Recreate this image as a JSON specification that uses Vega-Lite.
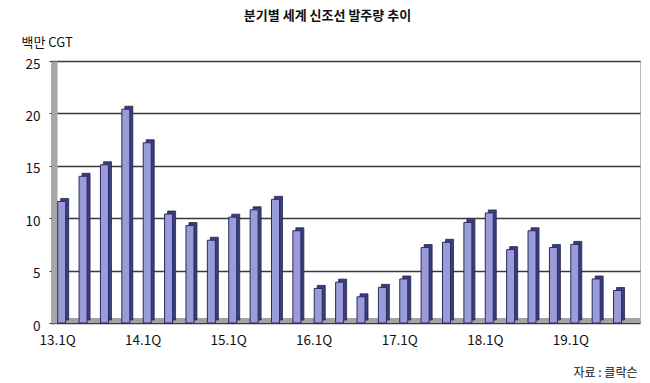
{
  "$schema": "https://vega.github.io/schema/vega-lite/v6.json",
  "autosize": {"type": "none"},
  "width": 589,
  "height": 262,
  "padding": {"left": 51, "top": 61, "right": 10, "bottom": 60},
  "background": "white",
  "title": {
    "text": "분기별 세계 신조선 발주량 추이",
    "font": "Noto Sans CJK KR",
    "fontSize": 13,
    "fontWeight": "bold",
    "color": "#111",
    "anchor": "middle",
    "frame": "group",
    "dx": -18,
    "offset": 13
  },
  "config": {
    "view": {"stroke": "#b8b8b8", "strokeWidth": 1},
    "font": "Noto Sans CJK KR"
  },
  "data": {
    "values": [
      {"q": "13.1Q", "v": 11.6},
      {"q": "13.2Q", "v": 14.0},
      {"q": "13.3Q", "v": 15.1},
      {"q": "13.4Q", "v": 20.4},
      {"q": "14.1Q", "v": 17.2},
      {"q": "14.2Q", "v": 10.4},
      {"q": "14.3Q", "v": 9.3},
      {"q": "14.4Q", "v": 7.9},
      {"q": "15.1Q", "v": 10.1},
      {"q": "15.2Q", "v": 10.8},
      {"q": "15.3Q", "v": 11.8},
      {"q": "15.4Q", "v": 8.8},
      {"q": "16.1Q", "v": 3.3},
      {"q": "16.2Q", "v": 3.9},
      {"q": "16.3Q", "v": 2.5},
      {"q": "16.4Q", "v": 3.4},
      {"q": "17.1Q", "v": 4.2},
      {"q": "17.2Q", "v": 7.2},
      {"q": "17.3Q", "v": 7.7},
      {"q": "17.4Q", "v": 9.6},
      {"q": "18.1Q", "v": 10.5},
      {"q": "18.2Q", "v": 7.0},
      {"q": "18.3Q", "v": 8.8},
      {"q": "18.4Q", "v": 7.2},
      {"q": "19.1Q", "v": 7.5},
      {"q": "19.2Q", "v": 4.2},
      {"q": "19.3Q", "v": 3.1}
    ]
  },
  "encoding": {
    "x": {
      "field": "q",
      "type": "ordinal",
      "sort": null,
      "scale": {"paddingInner": 0, "paddingOuter": 0.275, "align": 0},
      "axis": {
        "title": "자료 : 클락슨",
        "titleFont": "Noto Sans CJK KR",
        "titleFontSize": 12,
        "titleFontWeight": "normal",
        "titleColor": "#111",
        "titleX": 586,
        "titleY": 52,
        "titleAlign": "right",
        "titleBaseline": "middle",
        "values": ["13.1Q", "14.1Q", "15.1Q", "16.1Q", "17.1Q", "18.1Q", "19.1Q"],
        "labelAngle": 0,
        "labelFont": "Noto Sans CJK KR",
        "labelFontSize": 13.5,
        "labelColor": "#111",
        "labelPadding": 13,
        "labelOffset": -4,
        "ticks": false,
        "domainColor": "#a3a3a3",
        "domainWidth": 5,
        "offset": -3
      }
    },
    "y": {
      "field": "v",
      "type": "quantitative",
      "scale": {"domain": [0, 25], "nice": false},
      "axis": {
        "title": "백만 CGT",
        "titleFont": "Noto Sans CJK KR",
        "titleFontSize": 13,
        "titleFontWeight": "normal",
        "titleColor": "#111",
        "titleAngle": 0,
        "titleX": -33,
        "titleY": -19,
        "titleAlign": "left",
        "titleBaseline": "middle",
        "values": [0, 5, 10, 15, 20, 25],
        "labelFont": "Noto Sans CJK KR",
        "labelFontSize": 13.5,
        "labelColor": "#111",
        "labelPadding": 9,
        "labelOffset": 3,
        "tickSize": 5,
        "tickColor": "#333",
        "grid": true,
        "gridColor": "#3a3a3a",
        "gridWidth": 1.5,
        "domainColor": "#a6a6a6",
        "domainWidth": 6,
        "offset": -3
      }
    }
  },
  "layer": [
    {
      "mark": {"type": "bar", "size": 8, "color": "#3c3c7e", "xOffset": 3, "yOffset": -3, "stroke": "#25254f", "strokeWidth": 0.8}
    },
    {
      "mark": {"type": "bar", "size": 8, "color": "#9a9cd8", "stroke": "#2a2a66", "strokeWidth": 1}
    }
  ]
}
